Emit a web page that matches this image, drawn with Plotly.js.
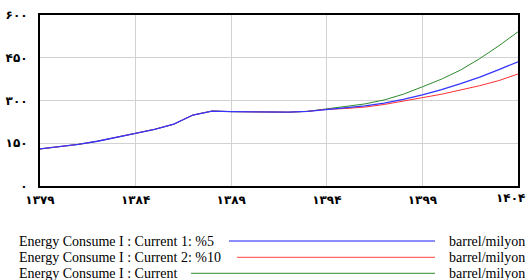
<!DOCTYPE html>
<html><head><meta charset="utf-8">
<script src="https://cdn.plot.ly/plotly-3.0.1.min.js"></script>
<style>html,body{margin:0;padding:0;background:#fff;}#chart{width:529px;height:280px;}</style>
</head><body><div id="chart"></div>
<script>
const years = [1379,1380,1381,1382,1383,1384,1385,1386,1387,1388,1389,1390,1391,1392,1393,1394,1395,1396,1397,1398,1399,1400,1401,1402,1403,1404];
const current1 = [130,138,146,157,170,185,199,217,249,263,261,261,259,259,262,269,274,281,291,304,320,338,359,382,408,436];
const current2 = [130,138,146,157,170,185,199,217,249,263,261,261,259,259,262,269,272,277,286,297,310,322,336,352,370,393];
const current  = [130,138,146,157,170,185,199,217,249,263,261,261,259,259,262,270,278,288,302,322,348,375,407,447,492,541];
const seriesNames = ['Energy Consume I : Current 1: %5','Energy Consume I : Current 2: %10','Energy Consume I : Current'];
const unitLabel = 'barrel/milyon';
const xTickVals = [1379,1384,1389,1394,1399,1404];
const xTickText = ['۱۳۷۹','۱۳۸۴','۱۳۸۹','۱۳۹۴','۱۳۹۹','۱۴۰۴'];
const yTickVals = [0,150,300,450,600];
const yTickText = ['۰','۱۵۰','۳۰۰','۴۵۰','۶۰۰'];

const traces = [
  {x: years, y: current, mode:'lines', line:{color:'#2e8b2e', width:1}, name: seriesNames[2]},
  {x: years, y: current2, mode:'lines', line:{color:'#ff3030', width:1}, name: seriesNames[1]},
  {x: years, y: current1, mode:'lines', line:{color:'#3535ff', width:1.3}, name: seriesNames[0]}
];

const legendRows = [
  {y:-0.322, x0:0.3954, color:'#8c8cff', w:2},
  {y:-0.417, x0:0.412, color:'#ff4040', w:1},
  {y:-0.5105, x0:0.316, color:'#2e8b2e', w:1}
];
const annotations = [];
const shapes = [];
const legendFont = {family:'Liberation Serif, Times New Roman, serif', size:14, color:'#000'};
legendRows.forEach((r,i)=>{
  annotations.push({xref:'paper', yref:'paper', x:-0.0481, y:r.y, xanchor:'left', yanchor:'middle', showarrow:false,
    text: seriesNames[i], font:legendFont});
  annotations.push({xref:'paper', yref:'paper', x:0.8515, y:r.y, xanchor:'left', yanchor:'middle', showarrow:false,
    text: unitLabel, font:legendFont});
  shapes.push({type:'line', xref:'paper', yref:'paper', x0:r.x0, x1:0.8264, y0:r.y, y1:r.y, line:{color:r.color, width:r.w}});
});

const tickFont = {family:'DejaVu Sans', size:12, color:'#000', weight:'bold'};
// last x label is shifted left in the original so it stays inside the image
const lastIdx = xTickVals.length - 1;
const shownXText = xTickText.map((t,i)=> i===lastIdx ? '' : t);
annotations.push({xref:'paper', yref:'paper', x:1.0188, y:-0.07, xanchor:'right', yanchor:'middle', showarrow:false,
  text: xTickText[lastIdx], font:tickFont});

const layout = {
  width:529, height:280,
  margin:{l:40, r:11, t:15, b:94},
  paper_bgcolor:'#fff', plot_bgcolor:'#fff',
  showlegend:false,
  xaxis:{range:[1379,1404], tickvals:xTickVals, ticktext:shownXText, showgrid:true, gridcolor:'#d2d2d2', gridwidth:1,
    showline:true, linecolor:'#000', linewidth:2, mirror:true, ticks:'', zeroline:false,
    tickfont:tickFont, ticklabelstandoff:2, ticklabeloverflow:'allow'},
  yaxis:{range:[0,600], tickvals:yTickVals, ticktext:yTickText, showgrid:true, gridcolor:'#d2d2d2', gridwidth:1,
    showline:true, linecolor:'#000', linewidth:2, mirror:true, ticks:'', zeroline:false,
    tickfont:tickFont, ticklabelstandoff:8, ticklabeloverflow:'allow'},
  annotations: annotations,
  shapes: shapes
};
Plotly.newPlot('chart', traces, layout, {displayModeBar:false, staticPlot:true});
</script></body></html>
